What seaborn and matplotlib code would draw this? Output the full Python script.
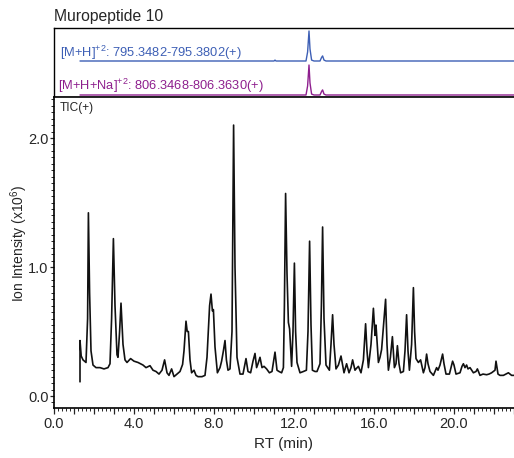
import numpy as np
import pandas as pd
import matplotlib
matplotlib.use("Agg")
import matplotlib.pyplot as plt
from matplotlib.ticker import MultipleLocator, FuncFormatter
import seaborn as sns

# ---------------- data ----------------
tic_time = [1.30, 1.30, 1.36, 1.45, 1.60, 1.68, 1.72, 1.78, 1.85, 1.95, 2.10, 2.30, 2.50, 2.70, 2.80,
            2.88, 2.97, 3.05, 3.15, 3.20, 3.28, 3.35, 3.45, 3.55, 3.65, 3.83, 4.00, 4.20, 4.45, 4.60,
            4.80, 4.95, 5.10, 5.25, 5.40, 5.53, 5.65, 5.75, 5.88, 6.00, 6.15, 6.30, 6.43, 6.50, 6.60,
            6.66, 6.72, 6.80, 6.88, 7.00, 7.10, 7.20, 7.40, 7.55, 7.65, 7.78, 7.85, 7.92, 7.97, 8.05,
            8.17, 8.30, 8.38, 8.47, 8.55, 8.62, 8.70, 8.80, 8.90, 8.98, 9.05, 9.15, 9.30, 9.45, 9.60,
            9.70, 9.83, 9.95, 10.05, 10.13, 10.20, 10.30, 10.40, 10.50, 10.63, 10.77, 10.90, 11.05, 11.15, 11.25,
            11.38, 11.47, 11.52, 11.58, 11.65, 11.72, 11.78, 11.88, 11.95, 12.02, 12.08, 12.15, 12.30, 12.47, 12.62,
            12.70, 12.78, 12.85, 12.92, 13.05, 13.15, 13.30, 13.37, 13.43, 13.50, 13.60, 13.77, 13.85, 13.93, 14.00,
            14.10, 14.22, 14.35, 14.50, 14.63, 14.75, 14.85, 14.93, 15.05, 15.10, 15.22, 15.35, 15.47, 15.58, 15.65,
            15.72, 15.85, 15.97, 16.05, 16.10, 16.22, 16.30, 16.38, 16.48, 16.58, 16.65, 16.72, 16.82, 16.92, 17.02,
            17.10, 17.17, 17.25, 17.33, 17.47, 17.55, 17.63, 17.70, 17.77, 17.88, 17.97, 18.03, 18.10, 18.22, 18.33,
            18.47, 18.55, 18.63, 18.70, 18.80, 18.97, 19.13, 19.20, 19.30, 19.43, 19.50, 19.60, 19.77, 19.85, 19.93,
            20.00, 20.10, 20.30, 20.40, 20.47, 20.55, 20.63, 20.70, 20.80, 20.97, 21.10, 21.17, 21.30, 21.45, 21.63,
            21.75, 21.88, 22.05, 22.10, 22.20, 22.30, 22.47, 22.60, 22.72, 22.88, 23.00]
tic_intensity = [0.11, 0.43, 0.31, 0.28, 0.26, 0.60, 1.42, 0.80, 0.35, 0.24, 0.22, 0.22, 0.21, 0.22, 0.25,
                 0.60, 1.22, 0.70, 0.32, 0.30, 0.50, 0.72, 0.40, 0.28, 0.26, 0.29, 0.27, 0.26, 0.24, 0.22,
                 0.235, 0.20, 0.19, 0.17, 0.20, 0.28, 0.18, 0.16, 0.21, 0.15, 0.17, 0.19, 0.245, 0.35, 0.58,
                 0.50, 0.50, 0.28, 0.18, 0.20, 0.16, 0.15, 0.15, 0.16, 0.30, 0.70, 0.79, 0.66, 0.67, 0.38,
                 0.18, 0.22, 0.27, 0.35, 0.43, 0.28, 0.20, 0.21, 0.50, 2.10, 1.00, 0.30, 0.17, 0.17, 0.29,
                 0.19, 0.18, 0.27, 0.33, 0.22, 0.25, 0.30, 0.22, 0.23, 0.21, 0.18, 0.19, 0.34, 0.20, 0.19,
                 0.18, 0.22, 0.70, 1.57, 0.95, 0.57, 0.52, 0.23, 0.50, 1.03, 0.50, 0.26, 0.18, 0.19, 0.20,
                 0.50, 1.20, 0.55, 0.20, 0.19, 0.19, 0.25, 0.70, 1.31, 0.60, 0.24, 0.20, 0.40, 0.63, 0.40,
                 0.21, 0.24, 0.31, 0.18, 0.25, 0.18, 0.22, 0.28, 0.20, 0.21, 0.23, 0.18, 0.28, 0.56, 0.35,
                 0.22, 0.40, 0.68, 0.47, 0.55, 0.26, 0.30, 0.36, 0.55, 0.75, 0.40, 0.20, 0.30, 0.46, 0.22,
                 0.25, 0.39, 0.25, 0.18, 0.19, 0.35, 0.63, 0.35, 0.20, 0.40, 0.84, 0.50, 0.29, 0.26, 0.28,
                 0.18, 0.22, 0.325, 0.25, 0.19, 0.16, 0.22, 0.20, 0.24, 0.325, 0.25, 0.17, 0.17, 0.22, 0.27,
                 0.24, 0.17, 0.18, 0.23, 0.25, 0.22, 0.24, 0.21, 0.22, 0.18, 0.19, 0.21, 0.16, 0.17, 0.165,
                 0.17, 0.18, 0.20, 0.27, 0.17, 0.16, 0.16, 0.17, 0.18, 0.16, 0.16]

xic_time = [1.30, 11.00, 11.05, 11.10, 12.60, 12.68, 12.75, 12.80, 12.88, 13.00, 13.30, 13.38, 13.43, 13.50, 13.60, 23.00]
mh_intensity = [0.00, 0.00, 0.03, 0.00, 0.00, 0.30, 1.00, 0.40, 0.03, 0.00, 0.00, 0.12, 0.17, 0.03, 0.00, 0.00]
mhna_intensity = [0.00, 0.00, 0.00, 0.00, 0.00, 0.30, 1.00, 0.40, 0.03, 0.00, 0.00, 0.12, 0.17, 0.03, 0.00, 0.00]

xic_labels = [r"[M+H]$^{+2}$: 795.3482-795.3802(+)",
              r"[M+H+Na]$^{+2}$: 806.3468-806.3630(+)"]
title = "Muropeptide 10"
y_ticks = [0.0, 1.0, 2.0]

# ---------------- style ----------------
sns.set_style("ticks")
plt.rcParams['font.family'] = ['Liberation Sans', 'DejaVu Sans']
plt.rcParams['mathtext.fontset'] = 'custom'
plt.rcParams['mathtext.rm'] = 'Liberation Sans'
plt.rcParams['mathtext.it'] = 'Liberation Sans'
plt.rcParams['mathtext.bf'] = 'Liberation Sans'

BLUE = "#3d5fb5"
PURPLE = "#8e1f8e"

W, H = 514, 458
fig = plt.figure(figsize=(W / 100, H / 100), dpi=100)

def box(l, t, r, b):
    return [l / W, 1 - b / H, (r - l) / W, (b - t) / H]

ax_top = fig.add_axes(box(54, 28, 514, 97))
ax = fig.add_axes(box(54, 97, 514, 408))

# ---------------- top panel (XICs) ----------------
df_mh = pd.DataFrame({"t": xic_time, "v": np.array(mh_intensity) * 30 + 36})
df_na = pd.DataFrame({"t": xic_time, "v": np.array(mhna_intensity) * 30 + 2})
sns.lineplot(data=df_mh, x="t", y="v", ax=ax_top, color=BLUE, lw=1.0, sort=False, estimator=None)
sns.lineplot(data=df_na, x="t", y="v", ax=ax_top, color=PURPLE, lw=1.0, sort=False, estimator=None)
ax_top.set_xlim(0, 23.0)
ax_top.set_ylim(0, 69)
ax_top.set_xticks([])
ax_top.set_yticks([])
ax_top.set_xlabel("")
ax_top.set_ylabel("")
for s in ["top", "left", "bottom"]:
    ax_top.spines[s].set_visible(True)
    ax_top.spines[s].set_linewidth(1.0)
    ax_top.spines[s].set_color("black")
ax_top.spines["right"].set_visible(False)
ax_top.text(0.013, 0.64, xic_labels[0], transform=ax_top.transAxes, color=BLUE,
            fontsize=9.3, va="center", ha="left")
ax_top.text(0.008, 0.16, xic_labels[1], transform=ax_top.transAxes, color=PURPLE,
            fontsize=9.3, va="center", ha="left")
fig.text(54 / W, 1 - 16 / H, title, fontsize=11.3, va="center", ha="left")

# ---------------- main panel (TIC) ----------------
df_tic = pd.DataFrame({"t": tic_time, "v": tic_intensity})
sns.lineplot(data=df_tic, x="t", y="v", ax=ax, color="#111111", lw=1.2, sort=False, estimator=None)
ax.set_xlim(0, 23.0)
ax.set_ylim(-0.093, 2.318)
ax.xaxis.set_major_locator(MultipleLocator(1.0))
ax.xaxis.set_major_formatter(FuncFormatter(lambda v, p: f"{v:.1f}" if round(v) % 4 == 0 else ""))
ax.xaxis.set_minor_locator(MultipleLocator(0.2))
ax.set_yticks(y_ticks)
ax.set_yticklabels([f"{v:.1f}" for v in y_ticks])
ax.yaxis.set_minor_locator(MultipleLocator(0.05))
ax.tick_params(axis="x", which="major", length=4.5, width=0.9, labelsize=10.5, pad=2, direction="out")
ax.tick_params(axis="x", which="minor", length=2.5, width=0.7, direction="out")
ax.tick_params(axis="y", which="major", length=3.0, width=0.9, labelsize=10.5, pad=1, direction="out")
ax.tick_params(axis="y", which="minor", length=2.0, width=0.7, direction="out")
ax.spines["right"].set_visible(False)
for s in ["top", "left", "bottom"]:
    ax.spines[s].set_linewidth(1.2)
    ax.spines[s].set_color("black")
ax.set_xlabel("RT (min)", fontsize=11, labelpad=4)
ax.set_ylabel(r"Ion Intensity (x10$^{6}$)", fontsize=10)
ax.yaxis.set_label_coords(-0.053, 0.53)
ax.text(0.013, 0.985, "TIC(+)", transform=ax.transAxes, fontsize=8.6, va="top", ha="left")

fig.savefig("out.png", dpi=100)
